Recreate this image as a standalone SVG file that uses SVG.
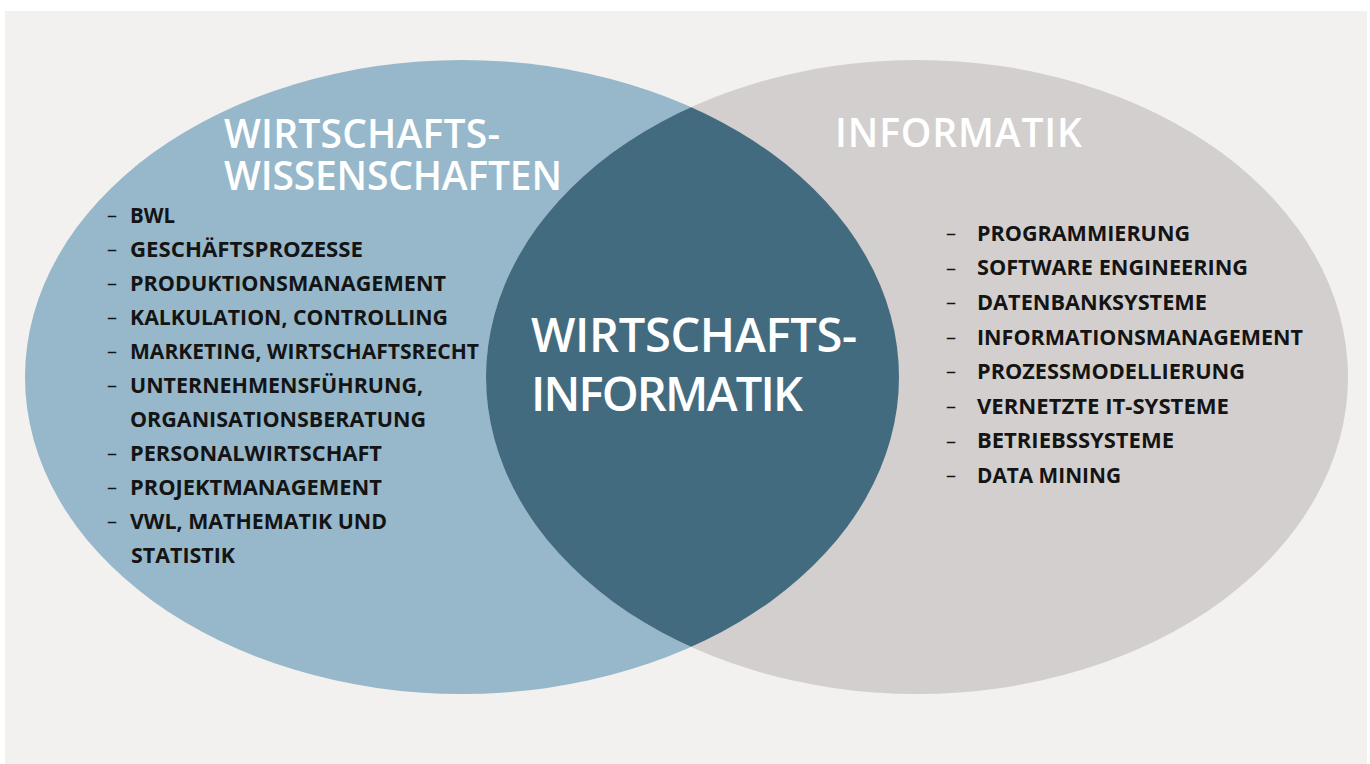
<svg xmlns="http://www.w3.org/2000/svg" width="1370" height="764" viewBox="0 0 1370 764">
  <style>
    .title { font-family: "Open Sans", "Liberation Sans", sans-serif; font-weight: 600; fill: #ffffff; }
    .item { font-family: "Open Sans", "Liberation Sans", sans-serif; font-weight: 700; font-size: 21px; fill: #141414; }
    .dash { font-family: "Open Sans", "Liberation Sans", sans-serif; font-weight: 400; font-size: 20px; fill: #141414; }
  </style>
  <defs>
    <clipPath id="clip-left">
      <ellipse cx="462" cy="377" rx="437" ry="317"/>
    </clipPath>
  </defs>

  <!-- canvas -->
  <rect x="0" y="0" width="1370" height="764" fill="#ffffff"/>
  <rect x="5" y="11" width="1362" height="753" fill="#f2f1ef"/>

  <!-- Wirtschaftswissenschaften -->
  <g id="node-wirtschaftswissenschaften">
    <ellipse cx="462" cy="377" rx="437" ry="317" fill="#96b8ca"/>
  </g>

  <!-- Informatik -->
  <g id="node-informatik">
    <ellipse cx="917" cy="377" rx="431" ry="317" fill="#d3cfce"/>
  </g>

  <!-- overlap: Wirtschaftsinformatik -->
  <g id="node-wirtschaftsinformatik">
    <ellipse cx="917" cy="377" rx="431" ry="317" fill="#436b80" clip-path="url(#clip-left)"/>
  </g>

  <!-- left labels -->
  <g id="labels-wirtschaftswissenschaften">
    <text class="title" x="224" y="148" font-size="39" textLength="276">WIRTSCHAFTS-</text>
    <text class="title" x="224" y="190" font-size="39" textLength="338">WISSENSCHAFTEN</text>
    <g class="dash">
      <text x="107" y="222">–</text>
      <text x="107" y="256">–</text>
      <text x="107" y="290">–</text>
      <text x="107" y="324">–</text>
      <text x="107" y="358">–</text>
      <text x="107" y="392">–</text>
      <text x="107" y="460">–</text>
      <text x="107" y="494">–</text>
      <text x="107" y="528">–</text>
    </g>
    <g class="item" lengthAdjust="spacingAndGlyphs">
      <text x="130" y="223" textLength="45" lengthAdjust="spacingAndGlyphs">BWL</text>
      <text x="130" y="257" textLength="233" lengthAdjust="spacingAndGlyphs">GESCHÄFTSPROZESSE</text>
      <text x="130" y="291" textLength="316" lengthAdjust="spacingAndGlyphs">PRODUKTIONSMANAGEMENT</text>
      <text x="130" y="325" textLength="318" lengthAdjust="spacingAndGlyphs">KALKULATION, CONTROLLING</text>
      <text x="130" y="359" textLength="349" lengthAdjust="spacingAndGlyphs">MARKETING, WIRTSCHAFTSRECHT</text>
      <text x="130" y="393" textLength="293" lengthAdjust="spacingAndGlyphs">UNTERNEHMENSFÜHRUNG,</text>
      <text x="130" y="427" textLength="296" lengthAdjust="spacingAndGlyphs">ORGANISATIONSBERATUNG</text>
      <text x="130" y="461" textLength="252" lengthAdjust="spacingAndGlyphs">PERSONALWIRTSCHAFT</text>
      <text x="130" y="495" textLength="252" lengthAdjust="spacingAndGlyphs">PROJEKTMANAGEMENT</text>
      <text x="130" y="529" textLength="257" lengthAdjust="spacingAndGlyphs">VWL, MATHEMATIK UND</text>
      <text x="131" y="563" textLength="104" lengthAdjust="spacingAndGlyphs">STATISTIK</text>
    </g>
  </g>

  <!-- right labels -->
  <g id="labels-informatik">
    <text class="title" x="835" y="147" font-size="39" textLength="247">INFORMATIK</text>
    <g class="dash">
      <text x="946" y="240">–</text>
      <text x="946" y="274.6">–</text>
      <text x="946" y="309.2">–</text>
      <text x="946" y="343.8">–</text>
      <text x="946" y="378.4">–</text>
      <text x="946" y="413">–</text>
      <text x="946" y="447.6">–</text>
      <text x="946" y="482.2">–</text>
    </g>
    <g class="item">
      <text x="977" y="240.7" textLength="213" lengthAdjust="spacingAndGlyphs">PROGRAMMIERUNG</text>
      <text x="977" y="275.3" textLength="271" lengthAdjust="spacingAndGlyphs">SOFTWARE ENGINEERING</text>
      <text x="977" y="309.9" textLength="230" lengthAdjust="spacingAndGlyphs">DATENBANKSYSTEME</text>
      <text x="977" y="344.5" textLength="326" lengthAdjust="spacingAndGlyphs">INFORMATIONSMANAGEMENT</text>
      <text x="977" y="379.1" textLength="268" lengthAdjust="spacingAndGlyphs">PROZESSMODELLIERUNG</text>
      <text x="977" y="413.7" textLength="252" lengthAdjust="spacingAndGlyphs">VERNETZTE IT-SYSTEME</text>
      <text x="977" y="448.3" textLength="197" lengthAdjust="spacingAndGlyphs">BETRIEBSSYSTEME</text>
      <text x="977" y="482.9" textLength="144" lengthAdjust="spacingAndGlyphs">DATA MINING</text>
    </g>
  </g>

  <!-- centre label -->
  <g id="labels-wirtschaftsinformatik">
    <text class="title" x="531" y="352" font-size="47" textLength="326">WIRTSCHAFTS-</text>
    <text class="title" x="531" y="411" font-size="47" textLength="272">INFORMATIK</text>
  </g>

  <!-- no connectors in this diagram -->
  <g id="connectors"/>
</svg>
